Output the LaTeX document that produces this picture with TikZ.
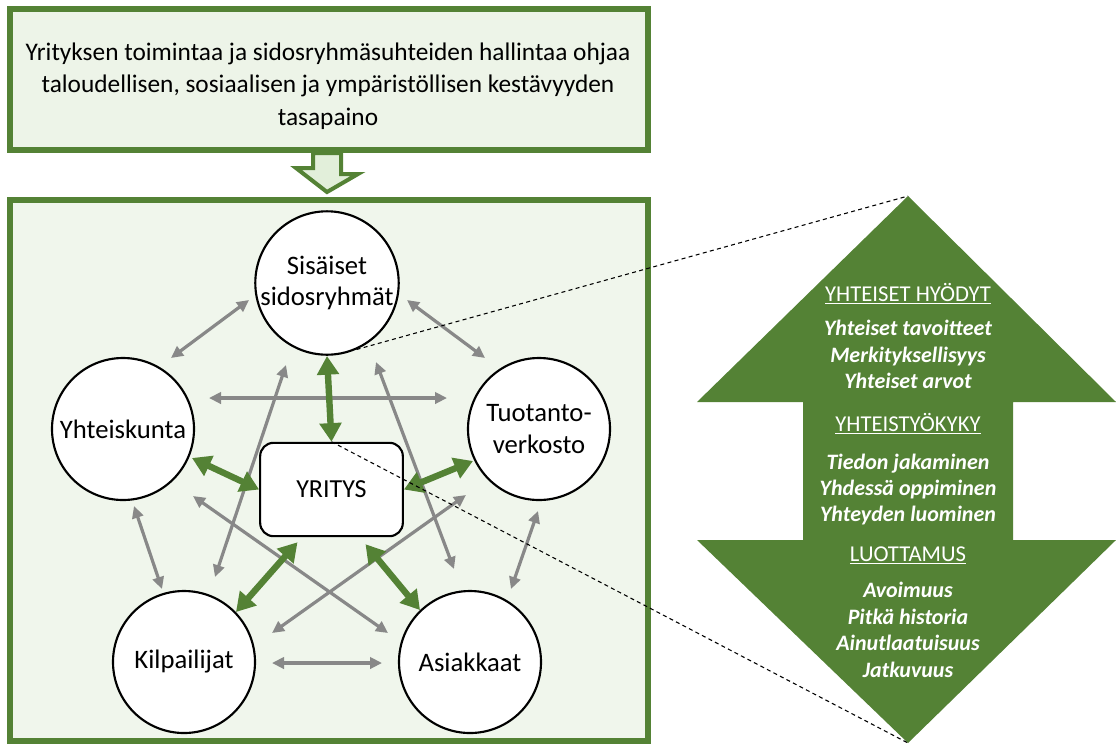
\documentclass[tikz,border=0pt]{standalone}
\usepackage{fontspec}
\setmainfont{Carlito}
\usetikzlibrary{arrows.meta,calc}
\definecolor{leaf}{HTML}{548235}
\definecolor{goalfill}{HTML}{EDF4E8}
\definecolor{netfill}{HTML}{F0F6EC}
\definecolor{flowfill}{HTML}{E2EFDA}
\definecolor{tiegray}{HTML}{888888}
\begin{document}
\begin{tikzpicture}[x=0.75pt,y=-0.75pt,
  frame/.style={rectangle, draw=leaf, line width=4.5pt, inner sep=0pt},
  stake/.style={circle, draw=black, line width=1.6pt, fill=white, minimum size=106.5pt,
    inner sep=0pt, align=center, font=\fontsize{20}{23.5}\selectfont},
  core/.style={rectangle, rounded corners=10pt, draw=black, line width=1.6pt, fill=white,
    minimum width=107pt, minimum height=70pt, font=\fontsize{19.5}{23}\selectfont},
  tie/.style={draw=tiegray, line width=2.4pt,
    {Triangle[length=9pt,width=8.5pt]}-{Triangle[length=9pt,width=8.5pt]}},
  bond/.style={draw=leaf, line width=4.8pt,
    {Triangle[length=14pt,width=16pt]}-{Triangle[length=14pt,width=16pt]}},
  hollow/.style={draw=leaf, line width=3pt, fill=flowfill, line join=miter},
  zoomline/.style={draw=black, line width=0.8pt, dash pattern=on 3pt off 2.5pt},
  hdr/.style={text=white, anchor=base, font=\fontsize{17}{20}\selectfont},
  itm/.style={text=white, anchor=base, font=\fontsize{16.5}{20}\selectfont\bfseries\itshape}]
\useasboundingbox (0,0) rectangle (1116,747);

% guiding principle and the network frame
\node[frame, fill=goalfill, minimum width=478.5pt, minimum height=105.75pt] (goal) at (329,79.5) {};
\node[font=\fontsize{19}{24.4}\selectfont, align=center] (goaltext) at (328,86)
  {Yrityksen toimintaa ja sidosryhmäsuhteiden hallintaa ohjaa\\
   taloudellisen, sosiaalisen ja ympäristöllisen kestävyyden\\
   tasapaino};
\node[frame, fill=netfill, minimum width=478.5pt, minimum height=405.75pt] (net) at (329,470.5) {};

% hollow arrow from the principle into the network
\draw[hollow] ($(goal.south)+(-16,0)$) -- ++(28,0) -- ++(0,21) -- ++(17,0)
  -- ($(net.north)+(-2,-5)$) -- ++(-31,-24) -- ++(17,0) -- cycle;

% stakeholder groups
\node[stake] (sis) at (327,283) {Sisäiset\\sidosryhmät};
\node[stake] (yht) at (123,429) {Yhteiskunta};
\node[stake] (tuo) at (539,429) {Tuotanto-\\verkosto};
\node[stake] (kil) at (184,662) {Kilpailijat};
\node[stake] (asi) at (470,662) {Asiakkaat};
\node[core] (yr) at (331.5,489.5) {YRITYS};

% relations between the groups
\draw[tie] ($(sis)+(-78,17)$) -- ($(yht)+(48,-71)$);
\draw[tie] ($(sis)+(80,17)$) -- ($(tuo)+(-54,-71)$);
\draw[tie] ($(yht)+(86,-31)$) -- ($(tuo)+(-92,-31)$);
\draw[tie] ($(yht)+(11,77)$) -- ($(kil)+(-22,-73)$);
\draw[tie] ($(tuo)+(-1,82)$) -- ($(asi)+(41,-73)$);
\draw[tie] ($(kil)+(88,1)$) -- ($(asi)+(-88,1)$);
\draw[tie] ($(sis)+(-41,82)$) -- ($(kil)+(31,-85)$);
\draw[tie] ($(sis)+(49,79)$) -- ($(asi)+(-16,-93)$);
\draw[tie] ($(yht)+(70,67)$) -- ($(asi)+(-82,-29)$);
\draw[tie] ($(tuo)+(-73,66)$) -- ($(kil)+(88,-29)$);

% relations of the company
\draw[bond] ($(sis)+(0,73)$) -- (yr.north);
\draw[bond] ($(yht)+(69,29)$) -- (yr.west);
\draw[bond] ($(tuo)+(-66,32)$) -- (yr.east);
\draw[bond] ($(kil)+(52,-50)$) -- ($(yr.south)+(-34,5)$);
\draw[bond] ($(asi)+(-50,-52)$) -- ($(yr.south)+(34,7)$);

% double arrow of shared value
\coordinate (ptop) at (908,196);
\coordinate (pbot) at (908,743);
\fill[leaf] (ptop) -- (1116,402) -- (1013,402) -- (1013,540) -- (1116,540) -- (pbot)
  -- (697,540) -- (803,540) -- (803,402) -- (697,402) -- cycle;

\node[hdr] (h1) at (908,301) {\underline{YHTEISET HYÖDYT}};
\node[itm] (a1) at (908,335) {Yhteiset tavoitteet};
\node[itm] (a2) at (908,362) {Merkityksellisyys};
\node[itm] (a3) at (908,388) {Yhteiset arvot};
\node[hdr] (h2) at (908,431) {\underline{YHTEISTYÖKYKY}};
\node[itm] (b1) at (908,469) {Tiedon jakaminen};
\node[itm] (b2) at (908,495) {Yhdessä oppiminen};
\node[itm] (b3) at (908,521) {Yhteyden luominen};
\node[hdr] (h3) at (908,561) {\underline{LUOTTAMUS}};
\node[itm] (c1) at (908,597) {Avoimuus};
\node[itm] (c2) at (908,624) {Pitkä historia};
\node[itm] (c3) at (908,650) {Ainutlaatuisuus};
\node[itm] (c4) at (908,677) {Jatkuvuus};

% zoom lines
\draw[zoomline] (sis.-66) -- (ptop);
\draw[zoomline] (yr.north) -- (pbot);
\end{tikzpicture}
\end{document}
